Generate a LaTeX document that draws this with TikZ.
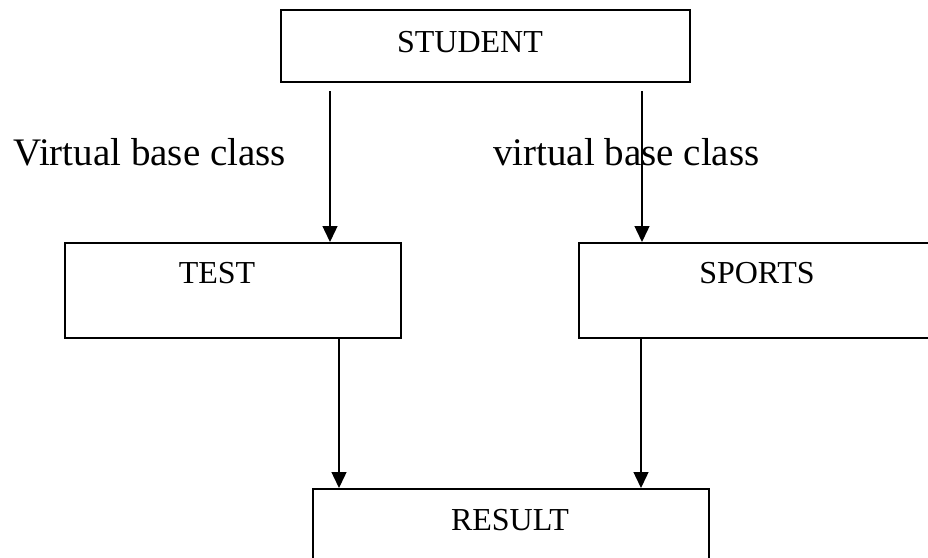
\documentclass[tikz,border=0pt]{standalone}
\usepackage{fontspec}
\setmainfont{Liberation Serif}
\usetikzlibrary{arrows.meta,calc}
\begin{document}
\begin{tikzpicture}[x=1pt,y=-1pt,
  box/.style={draw, line width=2pt, inner sep=0pt, minimum width=#1},
  boxtext/.style={anchor=base, inner sep=0pt, font=\fontsize{32}{38}\selectfont},
  sidetext/.style={anchor=base west, inner sep=0pt, font=\fontsize{39}{46}\selectfont},
  arr/.style={line width=1.4pt, -{Triangle[length=16pt,width=15pt]}}
]
\useasboundingbox (0,0) rectangle (928,557);
\clip (0,0) rectangle (928,557);
% boxes
\node[box=409pt, minimum height=72pt] (student) at (485.5,46) {};
\node[box=336pt, minimum height=95pt] (test) at (233,290.5) {};
\node[box=388pt, minimum height=95pt] (sports) at (773,290.5) {};
\node[box=396pt, minimum height=120pt] (result) at (511,549) {};
% box texts
\node[boxtext] (tstudent) at (470,52) {STUDENT};
\node[boxtext] (ttest) at (217,283) {TEST};
\node[boxtext] (tsports) at (757,283) {SPORTS};
\node[boxtext] (tresult) at (510,530) {RESULT};
% side labels
\node[sidetext] (lab1) at (13,165) {Virtual base class};
\node[sidetext] (lab2) at (493,165) {virtual base class};
% connectors
\coordinate (c1) at (330,0);
\coordinate (c2) at (642,0);
\coordinate (c3) at (339,0);
\coordinate (c4) at (641,0);
\draw[arr, shorten <=8pt] (student.south -| c1) -- (test.north -| c1);
\draw[arr, shorten <=8pt] (student.south -| c2) -- (sports.north -| c2);
\draw[arr] (test.south -| c3) -- (result.north -| c3);
\draw[arr] (sports.south -| c4) -- (result.north -| c4);
\end{tikzpicture}
\end{document}
